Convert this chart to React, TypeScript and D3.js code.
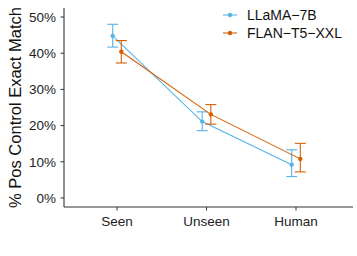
import * as d3 from 'd3';
import React, { useEffect, useRef } from 'react';

const categories = ['Seen', 'Unseen', 'Human'];
const seriesNames = ['LLaMA\u22127B', 'FLAN\u2212T5\u2212XXL'];
const seriesColors = ['#56B4E9', '#D55E00'];
const llamaMean = [0.448, 0.211, 0.092];
const llamaLow = [0.417, 0.186, 0.059];
const llamaHigh = [0.480, 0.238, 0.133];
const flanMean = [0.404, 0.231, 0.108];
const flanLow = [0.373, 0.204, 0.072];
const flanHigh = [0.435, 0.258, 0.151];
const yTicks = [0, 0.1, 0.2, 0.3, 0.4, 0.5];

function App() {
    const ref = useRef<SVGSVGElement>(null);

    useEffect(() => {
        const svg = d3.select(ref.current);
        svg.selectAll('*').remove();

        const left = 64, right = 353, top = 8, bottom = 207;
        const font = '"Liberation Sans", Arial, sans-serif';

        const x = d3.scalePoint().domain(categories).range([117, 296]);
        const y = d3.scaleLinear().domain([-0.025, 0.525]).range([bottom, top]);
        const dodge = [-4.3, 4.3];

        const series = [
            { mean: llamaMean, low: llamaLow, high: llamaHigh },
            { mean: flanMean, low: flanLow, high: flanHigh },
        ];

        const g = svg.append('g');

        series.forEach((s, si) => {
            const color = seriesColors[si];
            const pts = categories.map((c, i) => ({
                x: (x(c) as number) + dodge[si], m: s.mean[i], lo: s.low[i], hi: s.high[i],
            }));
            const line = d3.line<any>().x(d => d.x).y(d => y(d.m));
            g.append('path').datum(pts)
                .attr('d', line)
                .attr('fill', 'none')
                .attr('stroke', color)
                .attr('stroke-width', 1.1);

            // Fehlerbalken
            pts.forEach(p => {
                g.append('line').attr('x1', p.x).attr('x2', p.x)
                    .attr('y1', y(p.lo)).attr('y2', y(p.hi))
                    .attr('stroke', color).attr('stroke-width', 1.1);
                [p.lo, p.hi].forEach(v => {
                    g.append('line').attr('x1', p.x - 5.5).attr('x2', p.x + 5.5)
                        .attr('y1', y(v)).attr('y2', y(v))
                        .attr('stroke', color).attr('stroke-width', 1.1);
                });
                g.append('circle').attr('cx', p.x).attr('cy', y(p.m)).attr('r', 2.2)
                    .attr('fill', color);
            });
        });

        // Achsen
        const axis = svg.append('g').attr('font-family', font);
        axis.append('line').attr('x1', left).attr('x2', left).attr('y1', top).attr('y2', bottom)
            .attr('stroke', '#333').attr('stroke-width', 1.1);
        axis.append('line').attr('x1', left).attr('x2', right).attr('y1', bottom).attr('y2', bottom)
            .attr('stroke', '#333').attr('stroke-width', 1.1);

        yTicks.forEach(t => {
            axis.append('line').attr('x1', left - 3.5).attr('x2', left).attr('y1', y(t)).attr('y2', y(t))
                .attr('stroke', '#333').attr('stroke-width', 1);
            axis.append('text').attr('x', left - 8).attr('y', y(t)).attr('dy', '0.36em')
                .attr('text-anchor', 'end').attr('font-size', 13.5).attr('fill', '#222')
                .text(d3.format('.0%')(t));
        });
        categories.forEach(c => {
            axis.append('line').attr('x1', x(c) as number).attr('x2', x(c) as number)
                .attr('y1', bottom).attr('y2', bottom + 3.5)
                .attr('stroke', '#333').attr('stroke-width', 1);
            axis.append('text').attr('x', x(c) as number).attr('y', bottom + 18.5)
                .attr('text-anchor', 'middle').attr('font-size', 13.5).attr('fill', '#222')
                .text(c);
        });

        axis.append('text')
            .attr('transform', `translate(21,${(top + bottom) / 2}) rotate(-90)`)
            .attr('text-anchor', 'middle').attr('font-size', 16.5).attr('fill', '#111')
            .text('% Pos Control Exact Match');

        // Legende
        const leg = svg.append('g').attr('font-family', font);
        seriesNames.forEach((name, i) => {
            const ly = 15 + i * 18;
            leg.append('line').attr('x1', 223).attr('x2', 237).attr('y1', ly).attr('y2', ly)
                .attr('stroke', seriesColors[i]).attr('stroke-width', 1.1);
            leg.append('circle').attr('cx', 230).attr('cy', ly).attr('r', 2.2).attr('fill', seriesColors[i]);
            leg.append('text').attr('x', 247).attr('y', ly).attr('dy', '0.36em')
                .attr('font-size', 14).attr('fill', '#111').text(name);
        });
    }, []);

    return (
        <svg ref={ref} width={357} height={256}
            style={{ position: 'absolute', left: 0, top: 0, background: 'white' }}></svg>
    );
}

export default App;
